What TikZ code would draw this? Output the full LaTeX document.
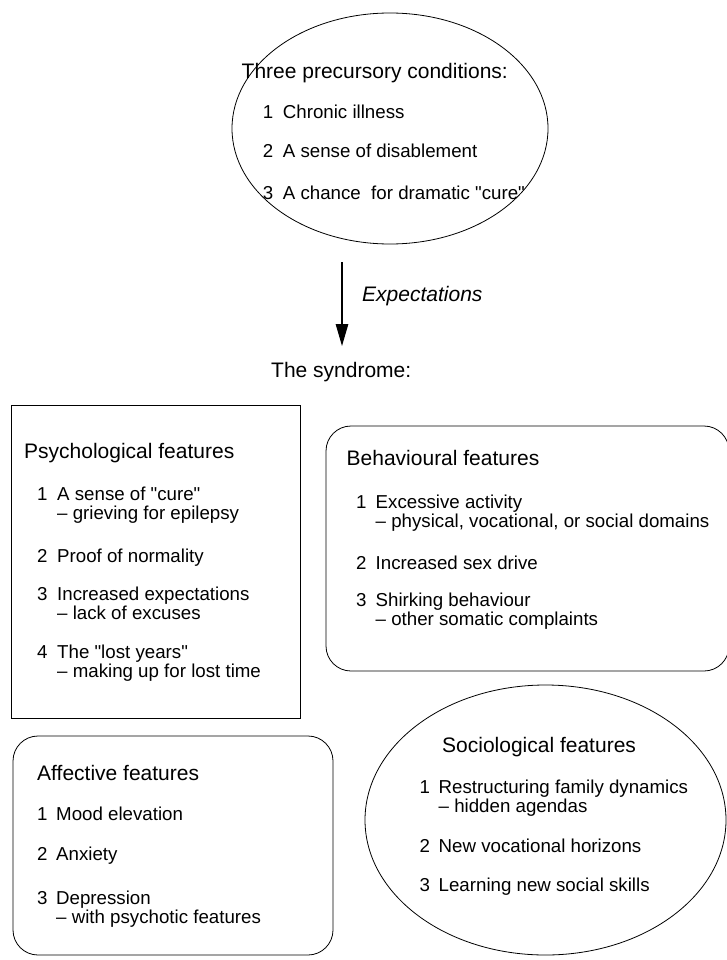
\documentclass[tikz,border=0pt]{standalone}
\usepackage{fontspec}
\setmainfont{Liberation Sans}[Ligatures=TeXOff]
\usetikzlibrary{shapes.geometric,arrows.meta}

\newlength\numw
\newcommand\itm[2]{\makebox[\numw][l]{#1}#2}
\newcommand\sbl[1]{\hspace*{\numw}#1}
\lineskiplimit=-20pt

\tikzset{
  every node/.style={font=\fontsize{18.7}{19}\selectfont},
  frame/.style={draw, line width=0.8pt, inner sep=0pt},
  oval/.style={frame, ellipse},
  sbox/.style={frame, rectangle},
  rbox/.style={frame, rectangle, rounded corners=25pt},
  head/.style={anchor=base west, inner sep=0pt, font=\fontsize{21}{21}\selectfont},
  % list nodes sit on the baseline of their last line
  list/.style={anchor=base west, inner sep=0pt, align=left,
    execute at begin node={\global\numw=#1}},
}

\begin{document}
\begin{tikzpicture}[x=1pt,y=-1pt]
  \useasboundingbox (0,0) rectangle (726,960);

  % precursors
  \node[oval, minimum width=316pt, minimum height=231pt] (precursors) at (390,128.5) {};
  \node[head] (precursorshead) at (241.5,79) {Three precursory conditions:};
  \node[list=20pt] (precursorslist) at (262.7,199)
    {\itm{1}{Chronic illness}\\[21pt]
     \itm{2}{A sense of disablement}\\[22pt]
     \itm{3}{A chance\ \ for dramatic "cure"}};

  \coordinate (arrowtop) at (342,262);
  \coordinate (arrowend) at (342,346);
  \draw [line width=1.2pt, -{Triangle[length=22pt,width=12.5pt]}] (arrowtop) -- (arrowend);
  \node[head, font=\fontsize{21}{21}\selectfont\itshape] (expect) at (362,301) {Expectations};
  \node[head] (syndrome) at (271,377) {The syndrome:};

  % psychological
  \node[sbox, minimum width=289pt, minimum height=313pt] (psych) at (155.5,561.5) {};
  \node[head] (psychhead) at (24,458) {Psychological features};
  \node[list=20pt] (psychlist) at (37,677)
    {\itm{1}{A sense of "cure"}\\
     \sbl{– grieving for epilepsy}\\[24pt]
     \itm{2}{Proof of normality}\\[19pt]
     \itm{3}{Increased expectations}\\
     \sbl{– lack of excuses}\\[20pt]
     \itm{4}{The "lost years"}\\
     \sbl{– making up for lost time}};

  % behavioural
  \node[rbox, minimum width=403pt, minimum height=245pt] (behav) at (527.5,548.5) {};
  \node[head] (behavhead) at (346.5,465) {Behavioural features};
  \node[list=19.5pt] (behavlist) at (356,625)
    {\itm{1}{Excessive activity}\\
     \sbl{– physical, vocational, or social domains}\\[23pt]
     \itm{2}{Increased sex drive}\\[18pt]
     \itm{3}{Shirking behaviour}\\
     \sbl{– other somatic complaints}};

  % affective
  \node[rbox, minimum width=320pt, minimum height=219pt] (affect) at (173,845.5) {};
  \node[head] (affecthead) at (37,780) {Affective features};
  \node[list=19pt] (affectlist) at (37,923)
    {\itm{1}{Mood elevation}\\[21pt]
     \itm{2}{Anxiety}\\[25pt]
     \itm{3}{Depression}\\
     \sbl{– with psychotic features}};

  % sociological
  \node[oval, minimum width=361pt, minimum height=270pt] (socio) at (545.5,820) {};
  \node[head] (sociohead) at (442,752) {Sociological features};
  \node[list=19pt] (sociolist) at (419.5,891)
    {\itm{1}{Restructuring family dynamics}\\
     \sbl{– hidden agendas}\\[21pt]
     \itm{2}{New vocational horizons}\\[20pt]
     \itm{3}{Learning new social skills}};
\end{tikzpicture}
\end{document}
